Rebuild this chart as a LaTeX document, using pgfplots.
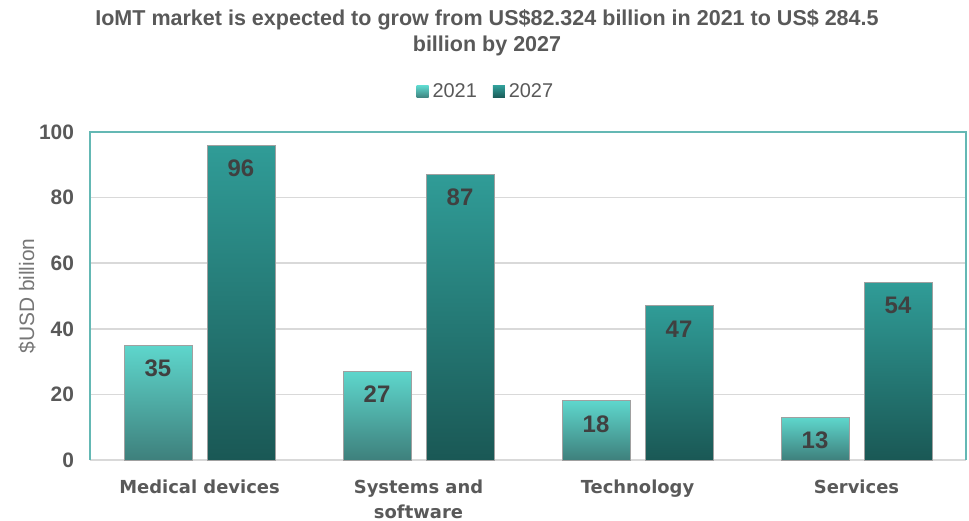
\documentclass[border=0pt]{standalone}
\usepackage{fontspec}
\setmainfont{Liberation Sans}
\newfontfamily\catfont{DejaVu Sans}
\usepackage{pgfplots}
\pgfplotsset{compat=1.18}

\definecolor{txtgray}{RGB}{89,89,89}
\definecolor{lblgray}{RGB}{118,118,118}
\definecolor{lbldark}{RGB}{64,64,64}
\definecolor{framecol}{RGB}{100,184,180}
\definecolor{gridcol}{RGB}{217,217,217}
\definecolor{aTop}{RGB}{94,214,204}
\definecolor{aBot}{RGB}{62,128,124}
\definecolor{bTop}{RGB}{48,156,151}
\definecolor{bBot}{RGB}{26,88,85}
\definecolor{edgecol}{RGB}{160,160,160}

% one bar per \addplot so that each bar gets its own full gradient
\pgfplotsset{
    bar2021/.style={top color=aTop, bottom color=aBot, draw=edgecol, line width=0.5pt, bar shift=-20.75bp},
    bar2027/.style={top color=bTop, bottom color=bBot, draw=edgecol, line width=0.5pt, bar shift=20.75bp},
}

\begin{document}
\begin{tikzpicture}
\begin{axis}[
    scale only axis,
    width=438bp, height=164bp,
    ybar, bar width=34bp,
    xmin=-0.5, xmax=3.5,
    ymin=0, ymax=100,
    xtick={0,1,2,3},
    xticklabels={Medical devices, Systems and\\software, Technology, Services},
    xticklabel style={font=\catfont\bfseries\fontsize{9}{12.5}\selectfont, text=txtgray, align=center, yshift=-6.5bp},
    ytick={0,20,...,100},
    yticklabel style={font=\bfseries\fontsize{10.5}{12}\selectfont, text=txtgray, xshift=-4.5bp},
    /pgf/number format/assume math mode=true,
    major tick length=0pt,
    axis line style={draw=none},
    ymajorgrids,
    grid style={gridcol, line width=0.8pt},
    ylabel={\$USD billion},
    every axis y label/.style={at={(-31.5bp,82bp)}, rotate=90, anchor=center,
        font=\fontsize{10.5}{12}\selectfont, text=lblgray},
    nodes near coords,
    every node near coord/.append style={font=\bfseries\fontsize{12}{14}\selectfont, text=lbldark, anchor=center, yshift=-11.5bp},
    legend style={at={(0.453,1.122)}, anchor=center, draw=none, legend columns=-1,
        font=\fontsize{10}{12}\selectfont, text=txtgray,
        /tikz/every even column/.append style={column sep=6bp}},
    legend image code/.code={\draw[#1, draw=none] (0bp,-3bp) rectangle (6bp,3bp);},
    clip=false,
]
\addplot[bar2021] coordinates {(0,35)};
\addlegendentry{2021}
\addplot[bar2027] coordinates {(0,96)};
\addlegendentry{2027}
\addplot[bar2021, forget plot] coordinates {(1,27)};
\addplot[bar2021, forget plot] coordinates {(2,18)};
\addplot[bar2021, forget plot] coordinates {(3,13)};
\addplot[bar2027, forget plot] coordinates {(1,87)};
\addplot[bar2027, forget plot] coordinates {(2,47)};
\addplot[bar2027, forget plot] coordinates {(3,54)};
\draw[framecol, line width=1pt] (rel axis cs:0,0) -- (rel axis cs:0,1) -- (rel axis cs:1,1) -- (rel axis cs:1,0);
\end{axis}
\node[font=\bfseries\fontsize{10.8}{13}\selectfont, text=txtgray, align=center] at (198.5bp,213.5bp)
    {IoMT market is expected to grow from US\$82.324 billion in 2021 to US\$ 284.5\\billion by 2027};
\pgfresetboundingbox
\path (-45bp,-30.5bp) rectangle (439.5bp,230bp);
\end{tikzpicture}
\end{document}
